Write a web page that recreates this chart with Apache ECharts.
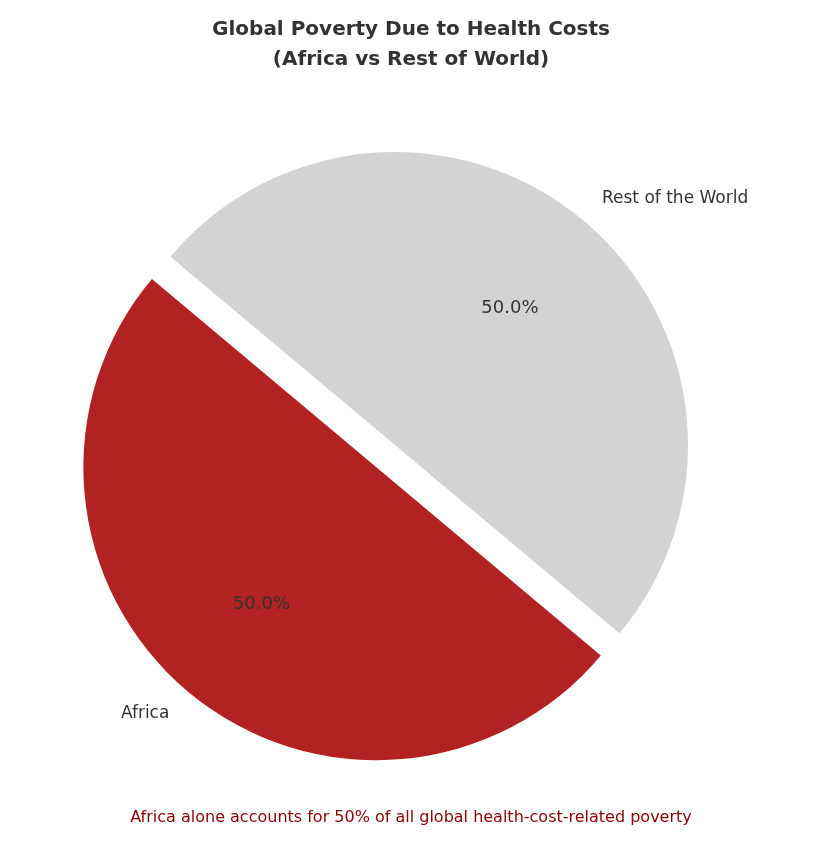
<!DOCTYPE html>
<html><head><meta charset="utf-8">
<script src="https://cdn.jsdelivr.net/npm/echarts@6/dist/echarts.min.js"></script>
<style>html,body{margin:0;padding:0;background:#fff}#c{width:822px;height:843px}</style>
</head><body><div id="c"></div>
<script>
const categories = ['Rest of the World', 'Africa'];
const values = [50, 50];
const colors = ['#d3d3d3', '#b22222'];
const exploded = [false, true];
const titleText = 'Global Poverty Due to Health Costs\n(Africa vs Rest of World)';
const noteText = 'Africa alone accounts for 50% of all global health-cost-related poverty';

const R = 293;
const font = 'DejaVu Sans';
const data = categories.map((c, i) => ({name: c, value: values[i], selected: exploded[i], itemStyle: {color: colors[i]}}));
const common = {type: 'pie', center: [395, 445], startAngle: 140, clockwise: true,
  selectedMode: 'multiple', selectedOffset: 29, animation: false, emphasis: {disabled: true}};
const chart = echarts.init(document.getElementById('c'));
chart.setOption({
  backgroundColor: '#fff',
  title: [
    {text: titleText, left: 'center', top: 10, textStyle: {fontFamily: font, fontSize: 20, fontWeight: 'bold', color: '#333', lineHeight: 30}},
    {text: noteText, left: 'center', top: 805, textStyle: {fontFamily: font, fontSize: 16, fontWeight: 'normal', color: '#8b0000'}}
  ],
  series: [
    Object.assign({}, common, {radius: [0, R], data: data,
      label: {show: true, position: 'outside', formatter: '{b}', fontFamily: font, fontSize: 17, color: '#333', distanceToLabelLine: 0},
      labelLine: {show: false, length: 29, length2: 0}}),
    Object.assign({}, common, {radius: [0, R * 1.2], silent: true,
      data: data.map(d => ({name: d.name, value: d.value, selected: d.selected, itemStyle: {color: 'rgba(0,0,0,0)'}})),
      label: {show: true, position: 'inside', formatter: p => p.percent.toFixed(1) + '%', fontFamily: font, fontSize: 18, color: '#333'},
      labelLine: {show: false}})
  ]
});
</script></body></html>
